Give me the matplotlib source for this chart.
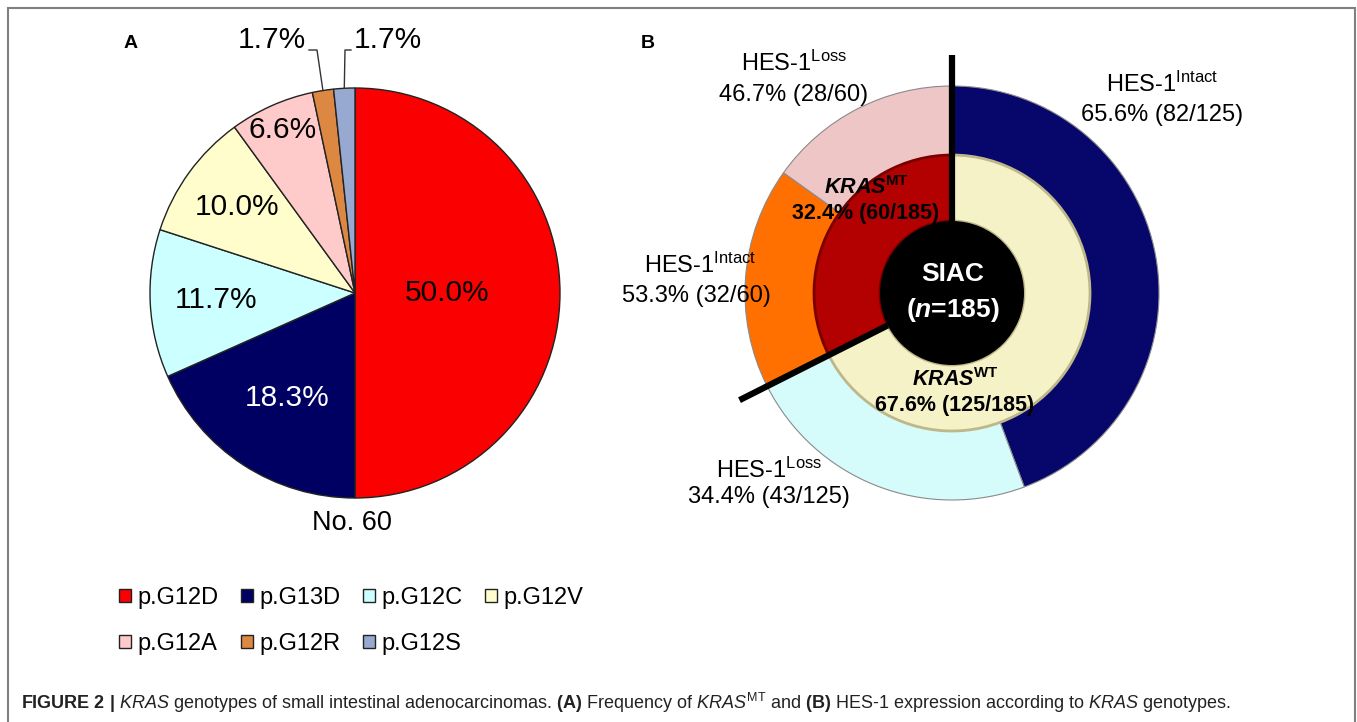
import matplotlib
matplotlib.use("Agg")
import matplotlib.pyplot as plt
import numpy as np
from matplotlib.patches import Rectangle

plt.rcParams['font.family'] = ['Liberation Sans', 'DejaVu Sans']
plt.rcParams['mathtext.fontset'] = 'custom'
plt.rcParams['mathtext.rm'] = 'Liberation Sans'
plt.rcParams['mathtext.it'] = 'Liberation Sans:italic'
plt.rcParams['mathtext.bf'] = 'Liberation Sans:bold'
try:
    plt.rcParams['mathtext.bfit'] = 'Liberation Sans:bold:italic'
except KeyError:
    pass

# ---------------- data ----------------
# Panel A: KRAS genotypes (No. 60)
a_genotypes = ["p.G12D", "p.G13D", "p.G12C", "p.G12V", "p.G12A", "p.G12R", "p.G12S"]
a_counts = [30, 11, 7, 6, 4, 1, 1]
a_pct_labels = ["50.0%", "18.3%", "11.7%", "10.0%", "6.6%", "1.7%", "1.7%"]
a_total_label = "No. 60"

# Panel B: SIAC (n=185)
b_inner_names = ["WT", "MT"]
b_inner_counts = [125, 60]
b_outer_names = ["Intact", "Loss", "Intact", "Loss"]
b_outer_counts = [82, 43, 32, 28]
b_outer_group = [0, 0, 1, 1]
b_center_count = [185]

# ---------------- style / layout ----------------
W, H = 1357, 722
a_colors = ["#FA0000", "#000062", "#CCFFFF", "#FFFDCC", "#FFCACA", "#DC8842", "#97A9D0"]
a_label_r = [0.45, 0.61, 0.68, 0.71, 0.87]
a_label_colors = ["black", "white", "black", "black", "black"]
b_outer_colors = ["#07076B", "#D5FBFB", "#FF7000", "#EEC6C6"]
b_inner_colors = ["#F4F2C6", "#B30000"]
b_inner_edges = ["#BDB78A", "#7A0000"]

def P(x, y):
    return (x, H - y)

fig = plt.figure(figsize=(W / 100, H / 100), dpi=100)
ax = fig.add_axes([0, 0, 1, 1])

# ---------- Panel A ----------
a_center = P(355, 293)
a_radius = 205
wedges_a, _ = ax.pie(a_counts, colors=a_colors, startangle=90, counterclock=False,
                     center=a_center, radius=a_radius,
                     wedgeprops=dict(edgecolor="#222222", linewidth=1.0))
for i, (w, r, c) in enumerate(zip(wedges_a, a_label_r, a_label_colors)):
    ang = np.deg2rad((w.theta1 + w.theta2) / 2)
    ax.text(a_center[0] + r * a_radius * np.cos(ang), a_center[1] + r * a_radius * np.sin(ang),
            a_pct_labels[i], ha="center", va="center", fontsize=21.5, color=c)

# small wedges with leader lines
small_text_pos = [(306, 40, "right"), (354, 40, "left")]
small_elbow = [((317, 50), (309, 50)), ((345, 50), (351, 50))]
for k, idx in enumerate([5, 6]):
    w = wedges_a[idx]
    ang = np.deg2rad((w.theta1 + w.theta2) / 2)
    ex = a_center[0] + a_radius * np.cos(ang)
    ey = a_center[1] + a_radius * np.sin(ang)
    (bx, by), (cx, cy) = small_elbow[k]
    ax.plot([ex, P(bx, by)[0], P(cx, cy)[0]], [ey, P(bx, by)[1], P(cx, cy)[1]],
            color="#333333", lw=1.0)
    tx, ty, ha = small_text_pos[k]
    ax.text(*P(tx, ty), a_pct_labels[idx], ha=ha, va="center", fontsize=21.5)

ax.text(*P(352, 523), a_total_label, ha="center", va="center", fontsize=19.5)

order = [0, 4, 1, 5, 2, 6, 3]
leg = ax.legend([wedges_a[i] for i in order], [a_genotypes[i] for i in order],
                ncol=4, loc="upper left", bbox_to_anchor=(119 / W, 1 - 587 / H),
                bbox_transform=fig.transFigure, frameon=False, fontsize=17,
                handlelength=0.5, handleheight=0.5, handletextpad=0.28,
                columnspacing=0.95, labelspacing=1.0, borderpad=0, borderaxespad=0)

# ---------- Panel B ----------
b_center = P(952, 293)
R_out, R_mid, R_in = 207, 138, 72
wedges_o, _ = ax.pie(b_outer_counts, colors=b_outer_colors, startangle=90, counterclock=False,
                     center=b_center, radius=R_out,
                     wedgeprops=dict(width=R_out - R_mid, edgecolor="#8a8a8a", linewidth=0.8))
wedges_i, _ = ax.pie(b_inner_counts, colors=b_inner_colors, startangle=90, counterclock=False,
                     center=b_center, radius=R_mid,
                     wedgeprops=dict(width=R_mid - R_in, linewidth=2.0))
for w, ec in zip(wedges_i, b_inner_edges):
    w.set_edgecolor(ec)
ax.pie(b_center_count, colors=["black"], center=b_center, radius=R_in,
       wedgeprops=dict(linewidth=0))

# divider lines at the group boundaries of the inner ring
total_b = sum(b_inner_counts)
boundaries = [90.0, 90.0 - 360.0 * b_inner_counts[0] / total_b]
for th in boundaries:
    t = np.deg2rad(th)
    ax.plot([b_center[0] + R_in * np.cos(t), b_center[0] + 238 * np.cos(t)],
            [b_center[1] + R_in * np.sin(t), b_center[1] + 238 * np.sin(t)],
            color="black", lw=4.5, solid_capstyle="butt")

# outer labels
outer_label_pos = [(1162, 84, 1162, 115), (769, 470, 769, 497),
                   (700, 265, 696, 296), (794, 63, 794, 95)]
for i, (x1, y1, x2, y2) in enumerate(outer_label_pos):
    g = b_outer_group[i]
    gt = b_inner_counts[g]
    v = b_outer_counts[i]
    ax.text(*P(x1, y1), r"HES-1$^{\rm %s}$" % b_outer_names[i], ha="center", va="center",
            fontsize=17)
    ax.text(*P(x2, y2), f"{100 * v / gt:.1f}% ({v}/{gt})", ha="center", va="center",
            fontsize=17)

# inner labels
inner_label_pos = [(955, 380, 955, 405), (866, 188, 866, 213)]
for i, (x1, y1, x2, y2) in enumerate(inner_label_pos):
    v = b_inner_counts[i]
    ax.text(*P(x1, y1), r"$\mathbfit{KRAS}^{\mathbf{%s}}$" % b_inner_names[i],
            ha="center", va="center", fontsize=15.5)
    ax.text(*P(x2, y2), f"{100 * v / total_b:.1f}% ({v}/{total_b})", ha="center", va="center",
            fontsize=15.5, fontweight="bold")

ax.text(*P(953, 274), "SIAC", ha="center", va="center", fontsize=19, fontweight="bold",
        color="white")
ax.text(*P(953, 310), r"($\mathbfit{n}$=%d)" % b_center_count[0], ha="center", va="center",
        fontsize=19, fontweight="bold", color="white")

# panel letters
ax.text(*P(131, 44), "A", ha="center", va="center", fontsize=14, fontweight="bold")
ax.text(*P(648, 44), "B", ha="center", va="center", fontsize=14, fontweight="bold")

ax.set_xlim(0, W)
ax.set_ylim(0, H)
ax.set_aspect("auto")
ax.axis("off")

# frame
fig.patches.append(Rectangle((8 / W, -0.1), (1355 - 8) / W, 1 - 8 / H + 0.1,
                             transform=fig.transFigure, fill=False,
                             edgecolor="#808080", lw=1.5))

caption = (r"$\mathbf{FIGURE\ 2\ |}$ $\mathit{KRAS}$ genotypes of small intestinal "
           r"adenocarcinomas. $\mathbf{(A)}$ Frequency of $\mathit{KRAS}^{\mathrm{MT}}$ and "
           r"$\mathbf{(B)}$ HES-1 expression according to $\mathit{KRAS}$ genotypes.")
cap = fig.text(21 / W, 1 - 703 / H, caption, fontsize=11, ha="left", va="center",
               color="#222222")
fig.canvas.draw()
wpx = cap.get_window_extent().width
cap.set_fontsize(11 * 1205 / wpx)

fig.savefig("out.png", dpi=100)
